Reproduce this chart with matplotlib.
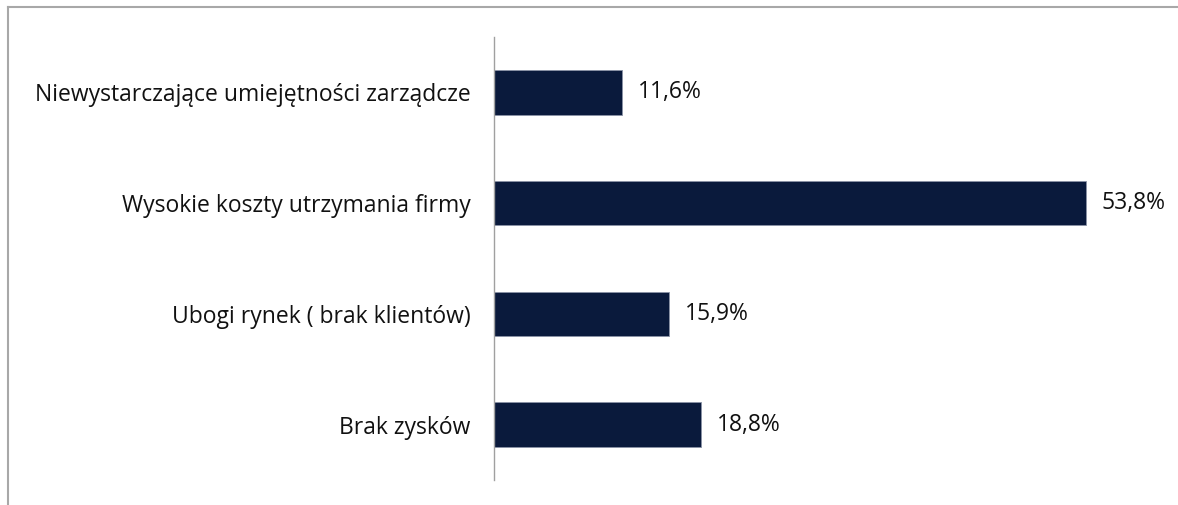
import matplotlib
matplotlib.use('Agg')
import matplotlib.pyplot as plt
from matplotlib.lines import Line2D

# data (top to bottom in the picture)
categories = ['Niewystarczające umiejętności zarządcze',
              'Wysokie koszty utrzymania firmy',
              'Ubogi rynek ( brak klientów)',
              'Brak zysków']
values = [11.6, 53.8, 15.9, 18.8]

plt.rcParams['font.family'] = ['Open Sans', 'DejaVu Sans']

W, H = 1178, 505
fig = plt.figure(figsize=(W / 100, H / 100), dpi=100)
ax = fig.add_axes([494 / W, 25 / H, 660 / W, 443 / H])

pos = list(range(len(categories)))
ax.barh(pos, values, height=0.4, color='#0a1a3c', edgecolor='#8a93a6', linewidth=0.6)
ax.set_ylim(len(categories) - 0.5, -0.5)
ax.set_xlim(0, 60)

for p, v in zip(pos, values):
    ax.text(v + 1.45, p, ('%.1f%%' % v).replace('.', ','), va='center', ha='left',
            fontsize=16.5, color='#111111')

ax.set_yticks(pos)
ax.set_yticklabels(categories, fontsize=16.5, color='#111111')
ax.tick_params(axis='y', length=0, pad=17)
ax.set_xticks([])
for s in ['top', 'right', 'bottom']:
    ax.spines[s].set_visible(False)
ax.spines['left'].set_color('#a0a0a0')
ax.spines['left'].set_linewidth(1.0)

# outer frame (only top and left are visible)
fig.add_artist(Line2D([8 / W, 1], [1 - 7 / H, 1 - 7 / H], color='#a8a8a8', lw=1.5))
fig.add_artist(Line2D([8 / W, 8 / W], [0, 1 - 7 / H], color='#a8a8a8', lw=1.5))

fig.savefig('out.png', dpi=100)
